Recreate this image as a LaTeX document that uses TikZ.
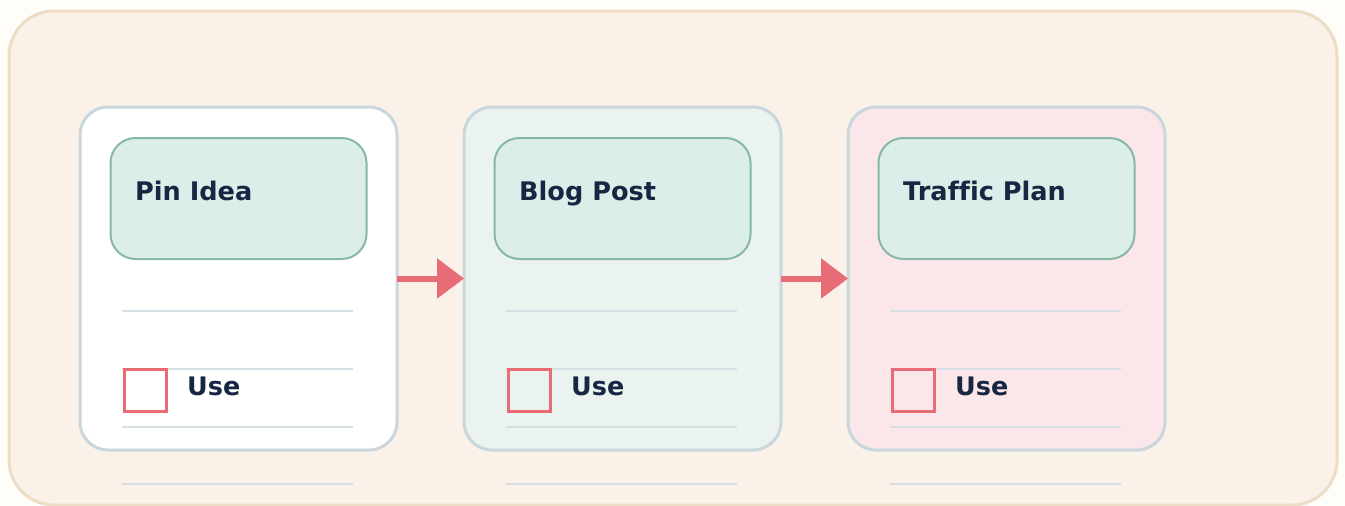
\documentclass[tikz,border=0pt]{standalone}
\usepackage{fontspec}
\setmainfont{DejaVu Sans}[Ligatures=NoCommon]
\usetikzlibrary{arrows.meta}
\definecolor{pagebg}{HTML}{FFFDF8}
\definecolor{outerfill}{HTML}{FAF1E8}
\definecolor{outerdraw}{HTML}{EDDCC6}
\definecolor{carddraw}{HTML}{C9D6DC}
\definecolor{headfill}{HTML}{DCEEE9}
\definecolor{headdraw}{HTML}{86B8A5}
\definecolor{ink}{HTML}{172741}
\definecolor{rule}{HTML}{D6DFE3}
\definecolor{accent}{HTML}{E76C76}
\definecolor{cardB}{HTML}{EAF3EF}
\definecolor{cardC}{HTML}{FBE6E9}
\tikzset{
  cardbox/.style={draw=carddraw, line width=3pt, rounded corners=28pt, minimum width=317pt, minimum height=343pt, inner sep=0pt, outer sep=0pt},
  headbox/.style={draw=headdraw, fill=headfill, line width=2pt, rounded corners=25pt, minimum width=256pt, minimum height=121pt, inner sep=0pt},
  headtext/.style={anchor=base west, text=ink, font=\bfseries\fontsize{25.6}{30}\selectfont, inner sep=0pt},
  usetext/.style={anchor=base west, text=ink, font=\bfseries\fontsize{25.5}{30}\selectfont, inner sep=0pt},
  checkbox/.style={draw=accent, line width=3pt, minimum width=42pt, minimum height=42pt, inner sep=0pt},
  ruleline/.style={draw=rule, line width=2pt},
  flow/.style={draw=accent, line width=6pt, -{Triangle[length=27pt, width=39pt]}}
}
\begin{document}
\begin{tikzpicture}[x=1pt, y=-1pt]
\fill[pagebg] (0,0) rectangle (1345,506);
\useasboundingbox (0,0) rectangle (1345,506);
\draw[fill=outerfill, draw=outerdraw, line width=3pt, rounded corners=45pt] (9,11) rectangle (1337,505);
\foreach \i/\x/\f/\t in {1/238.5/white/Pin Idea, 2/622.5/cardB/Blog Post, 3/1006.5/cardC/Traffic Plan}{
  \node[cardbox, fill=\f] (card\i) at (\x,278.5) {};
  \node[headbox] (head\i) at (\x,198.5) {};
  \node[headtext] (title\i) at ([xshift=-103.5pt]\x,200) {\t};
  \foreach \y in {311,369,427,484}{
    \draw[ruleline] ([xshift=-116.5pt]\x,\y) -- ([xshift=114.5pt]\x,\y);
  }
  \node[checkbox] (check\i) at ([xshift=-93.5pt]\x,390) {};
  \node[usetext] (use\i) at ([xshift=-51.5pt]\x,395) {Use};
}
\draw[flow] (card1.east) -- (card2.west);
\draw[flow] (card2.east) -- (card3.west);
\end{tikzpicture}
\end{document}
